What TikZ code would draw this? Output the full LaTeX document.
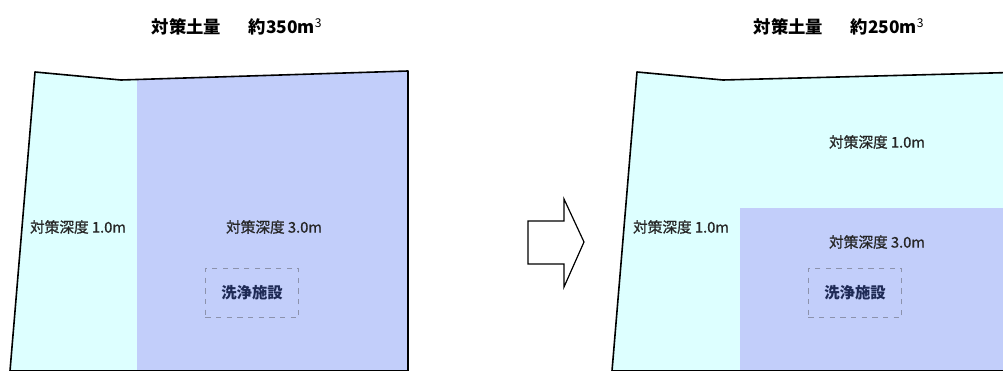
\documentclass[tikz,border=0pt]{standalone}
\usepackage{fontspec}
\setmainfont{Noto Sans CJK JP}
\newfontfamily\depthfont{Noto Sans CJK JP}[FakeBold=0.9]
\usetikzlibrary{positioning}
\definecolor{shallow}{RGB}{221,255,255}
\definecolor{deep}{RGB}{194,206,250}
\definecolor{labelnavy}{RGB}{30,42,85}
\definecolor{dashgrey}{RGB}{140,146,172}

\begin{document}
\begin{tikzpicture}[x=0.75pt, y=-0.75pt,
  outline/.style={draw, line width=1.2pt, line join=round},
  depth/.style={font=\depthfont\fontsize{11}{12}\selectfont, text=black!85, inner sep=1pt},
  facility/.style={draw=dashgrey, dash pattern=on 4pt off 4pt, line width=0.7pt,
    minimum width=70pt, minimum height=37pt, text=labelnavy,
    font=\fontsize{11.5}{13}\selectfont\bfseries},
  title/.style={font=\fontsize{13}{15}\selectfont\bfseries}
]
\useasboundingbox (0,0) rectangle (1003,371);
\clip (0,0) rectangle (1003,371);

% Before
\fill[shallow] (35,72) -- (121,80) -- (408,71) -- (408,371) -- (10,371) -- cycle;
\fill[deep] (137,79.5) -- (408,71) -- (408,371) -- (137,371) -- cycle;
\draw[outline] (35,72) -- (121,80) -- (408,71) -- (408,371) -- (10,371) -- cycle;

\node[title] (before) at (237,27) {対策土量\hspace{1.6em}約350m\textsuperscript{\normalfont 3}};
\node[depth] (shallowA) at (78,227) {対策深度 1.0m};
\node[depth] (deepA) at (274,227) {対策深度 3.0m};
\node[facility] (washA) at (252,293) {洗浄施設};

% Change
\draw[line width=0.9pt, line join=miter] (528,221) -- (564,221) -- (564,199) -- (584,242)
  -- (564,287) -- (564,264) -- (528,264) -- cycle;

% After
\fill[shallow] (637,72) -- (723,80) -- (1010,72.5) -- (1010,371) -- (612,371) -- cycle;
\fill[deep] (740,208) rectangle (1010,371);
\draw[outline] (637,72) -- (723,80) -- (1010,72.5) -- (1010,371) -- (612,371) -- cycle;

\node[title] (after) at (839,27) {対策土量\hspace{1.6em}約250m\textsuperscript{\normalfont 3}};
\node[depth] (shallowB) at (877,142) {対策深度 1.0m};
\node[depth] (shallowC) at (681,227) {対策深度 1.0m};
\node[depth] (deepB) at (877,242) {対策深度 3.0m};
\node[facility] (washB) at (855,293) {洗浄施設};

\end{tikzpicture}
\end{document}
